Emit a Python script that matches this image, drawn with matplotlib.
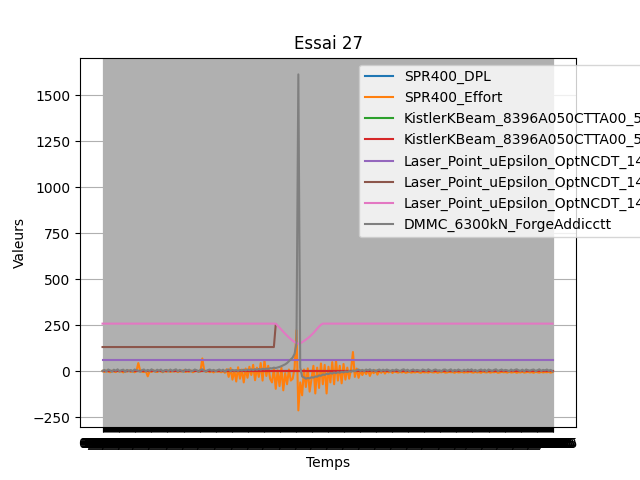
import matplotlib
matplotlib.use("Agg")
import matplotlib.pyplot as plt

# Time axis (categorical strings, 480 samples)
n_samples = 480
temps = [f"{i * 0.0025:.4f}".replace(".", ",") for i in range(n_samples)]
temps_half = temps[::2]  # 240 samples used by most sensors

labels = [
    "SPR400_DPL",
    "SPR400_Effort",
    "KistlerKBeam_8396A050CTTA00_5203416_X",
    "KistlerKBeam_8396A050CTTA00_5203416_Y",
    "Laser_Point_uEpsilon_OptNCDT_1420_1",
    "Laser_Point_uEpsilon_OptNCDT_1420_2",
    "Laser_Point_uEpsilon_OptNCDT_1420_3",
    "DMMC_6300kN_ForgeAddicctt",
]

spr_dpl = [0.0] * n_samples

spr_effort = (
    [2, -3, 4, -1, -5, 3, 0, -4, 5, -2, 1, -6, 3, -1, 4, -3, 2, -5, 1, 45]
    + [3, -2, -4, 2, -27, 1, -3, 5, -1, -4, 3, 0, -5, 2, -2, 4, -3, 1, -1, 3]
    + [-4, 2, -1, 5, -3, 0, -2, 4, -5, 1, 3, -2, -1, 70, 4, -3, 2, -4, 1, -6, 3, -2, 0, -5, 2]
    + [-8, 12, -30, 18, -45, 5, -55, 22, -40, 10, -60, 15, -35, 25]
    + [-20, 35, -48, 20, -30, 45, -50, 60, -25, 30, -40]
    + [-60, 15, -95, 5, -80, 20, -103, -10, -70, 10, -50]
    + [-40, 20, 223, -212]
    + [-60, -130, 10, -85, 16, -110]
    + [-40, 30, -120, 20, -90, 43, -70, 35, -120, 25, -60]
    + [50, -70, 60, -50, 30, -65, 40, -45]
    + [20, -40, 10, 105, -30, 15, -35, 5]
    + [-20, 4, -15, 6, -25, 2, -10, 5, -18, 3, -8, 4, -12, 1, -6, 3, -9, 0]
    + [-4, -7, -3, -6, -2, -8, -5, -3, -7, -4, -6, -2, -5, -8, -3, -6, -4, -7, -2, -5,
       -6, -3, -8, -4, -5, -2, -7, -6, -3, -5, -4, -8, -2, -6, -5, -3, -7, -4, -6, -2,
       -5, -7, -3, -6, -4, -8, -2, -5, -6, -3, -7, -4, -5, -2, -8, -6, -3, -5, -4, -7,
       -2, -6, -5, -3, -8, -4, -6, -2, -7, -5, -3, -6, -4, -8, -2, -5, -7, -3, -6, -4,
       -5, -3, -7, -4]
)

kistler_x = [1.0] * 240
kistler_y = [3.0] * 240

laser_1 = [60.0] * 240
laser_2 = [132.0] * 92 + [255.0]
laser_3 = (
    [259.0] * 92
    + [259, 248, 237, 226, 215, 204, 194, 184, 175, 166, 159, 154, 150,
       152, 158, 165, 172, 180, 188, 198, 208, 220, 232, 243, 253, 259]
    + [259.0] * 122
)

dmmc = (
    [2, 8, -1, 10, 5, -2, 9, 3, 11, 0, 6, 9, -3, 8, 2, 7, -1, 10, 6, 3,
     -2, 7, 10, 0, 8, 2, 11, 5, -1, 9, 3, 10, -3, 6, 8, 0, 10, 2, 7, 11,
     0, 8, 3, -2, 10, 5, 9, 0, 3, 10, 6, -2, 8, 11, 2, 0, 7, 10, 3, 8,
     0, 6, 10, 2, 9, -2, 7, 10, 1, 8]
    + [3, 7, 2, 8, 4, 9, 5, 10, 6, 11, 7, 12, 8, 13, 9, 14, 11, 15, 13, 17, 16, 20, 18]
    + [21, 24, 28, 33, 38, 45, 55, 65, 75]
    + [95, 150, 1612]
    + [20, -28, -33, -40, -36, -38, -32, -34, -28, -29, -22, -24, -17, -19, -13,
       -15, -9, -12, -6, -10, -4, -8, -2, -6, 0, -4, 2, -2, 4, 1]
    + [6, 10, 2, 8, 0, 10, 5, 11, 2, 8, -1, 6, 10, 1, 9, 3, 10, 5, 0, 8,
       3, 10, 6, -1, 8, 11, 2, 9, 0, 6, 10, 3, 8, 5, 1, 10, 7, 2, 11, 5,
       0, 8, 10, 3, 6, -1, 9, 10, 2, 6, 11, 0, 8, 3, 10, 5, 1, 9, 3, 10,
       5, 11, 2, 8, 0, 6, 10, 3, 9, -1, 10, 6, 2, 8, 11, 1, 6, 10, 3, 8,
       5, 0, 10, 3, 8, 11, 5, 2, 9, 0, 10, 6, 3, 8, 10, 1, 6, 11, 2, 8,
       5, 10, 3, 8, 0]
)

fig, ax = plt.subplots(figsize=(6.4, 4.8), dpi=100)
ax.plot(temps, spr_dpl, label=labels[0])
ax.plot(temps_half, spr_effort, label=labels[1])
ax.plot(temps_half, kistler_x, label=labels[2])
ax.plot(temps_half, kistler_y, label=labels[3])
ax.plot(temps_half, laser_1, label=labels[4])
ax.plot(temps_half[:len(laser_2)], laser_2, label=labels[5])
ax.plot(temps_half, laser_3, label=labels[6])
ax.plot(temps_half, dmmc, label=labels[7])

ax.set_title("Essai 27")
ax.set_xlabel("Temps")
ax.set_ylabel("Valeurs")
ax.grid(True)
ax.legend(loc="upper left", bbox_to_anchor=(0.549, 1.0))

fig.savefig("out.png", dpi=100)
